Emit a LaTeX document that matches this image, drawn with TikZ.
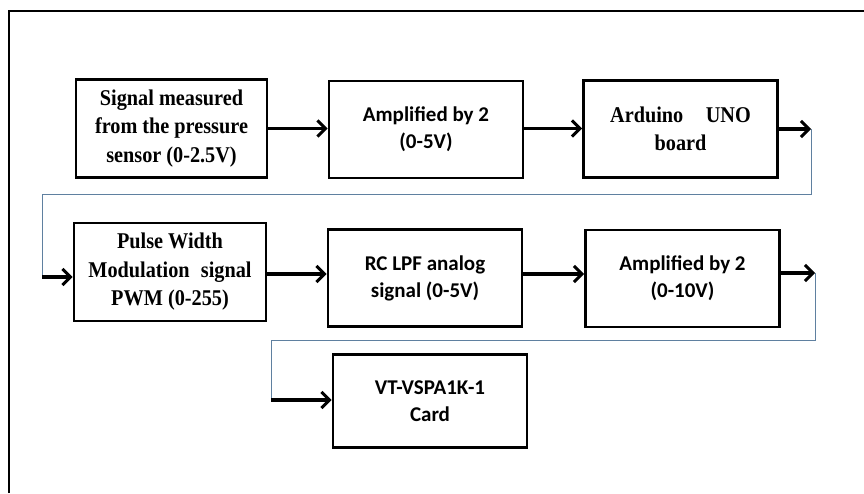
\documentclass[tikz,border=0pt]{standalone}
\usepackage{fontspec}
\newfontfamily\blkserif[FakeStretch=0.9]{Liberation Serif}
\newfontfamily\blksans{Carlito}
\usetikzlibrary{arrows.meta}
\definecolor{linkblue}{RGB}{95,128,160}
\begin{document}
\begin{tikzpicture}[x=1pt,y=-1pt,
  blk/.style={draw,line width=2.8pt,minimum width=194pt,minimum height=97pt,align=center,inner sep=2pt},
  ser/.style={font=\blkserif\bfseries\fontsize{22.5}{28.5}\selectfont},
  san/.style={font=\blksans\bfseries\fontsize{21}{27}\selectfont},
  arr/.style={line width=3.8pt,-{Straight Barb[length=8pt,width=16pt,line width=3pt]}},
  thin/.style={draw=linkblue,line width=1pt}]
\useasboundingbox (0,0) rectangle (864,493);
% frame
\draw[line width=2.2pt] (9,493)--(9,11)--(864,11);
% first row
\node[blk,ser,minimum width=191pt,minimum height=98pt] (sense) at (171.5,128.5) {Signal measured\\from the pressure\\sensor (0-2.5V)};
\node[blk,san] (amp) at (426,129.5) {Amplified by 2\\(0-5V)};
\node[blk,ser] (uno) at (680.5,129) {Arduino\quad UNO\\board};
% second row
\node[blk,ser,minimum width=192pt,minimum height=98pt] (pwm) at (170,272) {Pulse Width\\Modulation\enspace signal\\PWM (0-255)};
\node[blk,san] (lpf) at (425,278) {RC LPF analog\\signal (0-5V)};
\node[blk,san] (amptwo) at (682.5,278.5) {Amplified by 2\\(0-10V)};
% last row
\node[blk,san,minimum height=93pt] (card) at (430,401) {VT-VSPA1K-1\\Card};
% turn points
\coordinate (out1) at (811,129);
\coordinate (in1) at (42,277);
\coordinate (out2) at (815,273);
\coordinate (in2) at (271,400);
% arrows
\draw[arr] (sense.east)--(sense.east -| amp.west);
\draw[arr] (amp.east |- sense.east)--(sense.east -| uno.west);
\draw[arr] (uno.east)--(out1);
\draw[thin] (out1)--(out1 |- 0,194)--(in1 |- 0,194)--(in1);
\draw[arr] (in1)--(in1 -| pwm.west);
\draw[arr] (pwm.east |- 0,274)--(lpf.west |- 0,274);
\draw[arr] (lpf.east |- 0,274)--(amptwo.west |- 0,274);
\draw[arr] (amptwo.east |- out2)--(out2);
\draw[thin] (out2)--(out2 |- 0,340)--(in2 |- 0,340)--(in2);
\draw[arr] (in2)--(in2 -| card.west);
\end{tikzpicture}
\end{document}
